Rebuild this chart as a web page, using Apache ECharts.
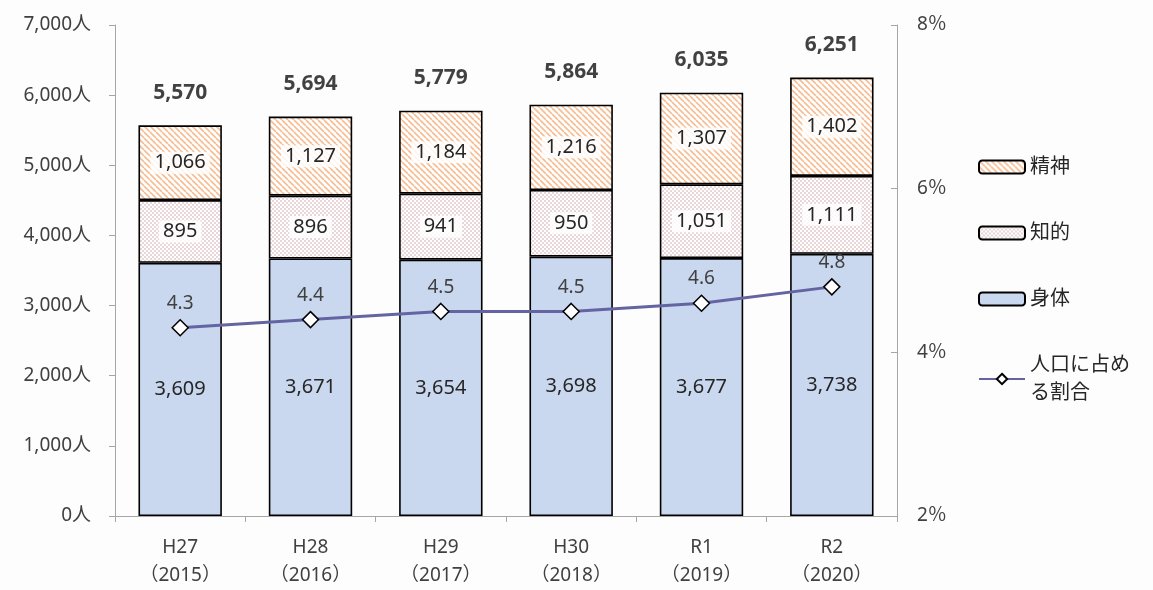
<!DOCTYPE html>
<html>
<head>
<meta charset="utf-8">
<script src="https://cdn.jsdelivr.net/npm/echarts@6/dist/echarts.min.js"></script>
<style>
  html, body { margin: 0; padding: 0; background: #fdfdfd; }
  #chart { width: 1153px; height: 590px; }
</style>
</head>
<body>
<div id="chart"></div>
<script>
// Fiscal years (Japanese era + western year)
const categories = ['H27\n（2015）', 'H28\n（2016）', 'H29\n（2017）', 'H30\n（2018）', 'R1\n（2019）', 'R2\n（2020）'];
// Number of people by disability type
const physical = [3609, 3671, 3654, 3698, 3677, 3738];   // 身体
const intellectual = [895, 896, 941, 950, 1051, 1111];   // 知的
const mental = [1066, 1127, 1184, 1216, 1307, 1402];     // 精神
// Share of the total population (%)
const ratio = [4.3, 4.4, 4.5, 4.5, 4.6, 4.8];
// Left and right axis ranges
const leftTicks = { min: 0, max: 7000, interval: 1000 };
const rightTicks = { min: 2, max: 8, interval: 2 };

const totals = physical.map((v, i) => v + intellectual[i] + mental[i]);

const FONT = "'Noto Sans', 'Noto Sans CJK JP', sans-serif";

// Diagonal orange hatch for 精神
function makeHatch() {
  const s = 6;
  const c = document.createElement('canvas');
  c.width = s; c.height = s;
  const g = c.getContext('2d');
  g.fillStyle = '#ffffff';
  g.fillRect(0, 0, s, s);
  g.strokeStyle = '#F7BC92';
  g.lineWidth = 1.6;
  g.beginPath();
  for (let k = -s; k <= 2 * s; k += s) {
    g.moveTo(k, 0);
    g.lineTo(k + s, s);
  }
  g.stroke();
  return c;
}
// Small check pattern for 知的
function makeCheck() {
  const c = document.createElement('canvas');
  c.width = 4; c.height = 4;
  const g = c.getContext('2d');
  g.fillStyle = '#ffffff';
  g.fillRect(0, 0, 4, 4);
  g.fillStyle = '#E8D6D9';
  g.fillRect(0, 0, 2, 2);
  g.fillRect(2, 2, 2, 2);
  return c;
}

const chart = echarts.init(document.getElementById('chart'));

function segLabel(boxed) {
  return {
    show: true,
    position: 'inside',
    fontSize: 20,
    fontFamily: FONT,
    color: '#262626',
    backgroundColor: boxed ? 'rgba(255,255,255,0.85)' : 'transparent',
    padding: [1, 4],
    formatter: p => p.value.toLocaleString('en-US')
  };
}

chart.setOption({
  backgroundColor: '#fdfdfd',
  animation: false,
  grid: { left: 115, right: 256, top: 25, bottom: 74, containLabel: false, outerBoundsMode: 'none' },
  legend: {
    orient: 'vertical',
    left: 973,
    top: 148,
    itemWidth: 46,
    itemHeight: 13,
    itemGap: 38,
    data: ['精神', '知的', '身体', '人口に占める割合'],
    formatter: n => n === '人口に占める割合' ? '人口に占め\nる割合' : n,
    textStyle: { fontSize: 20, color: '#262626', fontFamily: FONT, lineHeight: 28 }
  },
  xAxis: {
    type: 'category',
    data: categories,
    axisLine: { lineStyle: { color: '#A6A6A6', width: 1 } },
    axisTick: { show: true, length: 6, lineStyle: { color: '#A6A6A6' } },
    axisLabel: { fontSize: 19, color: '#404040', fontFamily: FONT, lineHeight: 28, margin: 18 }
  },
  yAxis: [
    {
      type: 'value',
      min: leftTicks.min, max: leftTicks.max, interval: leftTicks.interval,
      splitLine: { show: false },
      axisLine: { show: true, lineStyle: { color: '#A6A6A6' } },
      axisTick: { show: true, length: 6, lineStyle: { color: '#A6A6A6' } },
      axisLabel: {
        fontSize: 19, color: '#404040', fontFamily: FONT, margin: 24,
        formatter: v => v.toLocaleString('en-US') + '人'
      }
    },
    {
      type: 'value',
      min: rightTicks.min, max: rightTicks.max, interval: rightTicks.interval,
      splitLine: { show: false },
      axisLine: { show: true, lineStyle: { color: '#A6A6A6' } },
      axisTick: { show: true, length: 6, inside: true, lineStyle: { color: '#A6A6A6' } },
      axisLabel: {
        fontSize: 19, color: '#404040', fontFamily: FONT, margin: 20,
        formatter: v => v + '％'
      }
    }
  ],
  series: [
    {
      name: '身体', type: 'bar', stack: 'total', barWidth: '64%',
      data: physical,
      itemStyle: { color: '#C9D8EF', borderColor: '#000000', borderWidth: 1.6 },
      label: segLabel(false)
    },
    {
      name: '知的', type: 'bar', stack: 'total',
      data: intellectual,
      itemStyle: { color: { image: makeCheck(), repeat: 'repeat' }, borderColor: '#000000', borderWidth: 1.6 },
      label: segLabel(true)
    },
    {
      name: '精神', type: 'bar', stack: 'total',
      data: mental,
      itemStyle: { color: { image: makeHatch(), repeat: 'repeat' }, borderColor: '#000000', borderWidth: 1.6 },
      label: segLabel(true)
    },
    {
      name: '合計', type: 'scatter',
      data: totals,
      symbolSize: 0,
      silent: true,
      label: {
        show: true, position: 'top', distance: 22,
        fontSize: 21, fontWeight: 'bold', color: '#111111', fontFamily: FONT,
        formatter: p => p.value.toLocaleString('en-US')
      },
      z: 5
    },
    {
      name: '人口に占める割合', type: 'line', yAxisIndex: 1,
      data: ratio,
      symbol: 'diamond', symbolSize: 16,
      lineStyle: { color: '#6464A2', width: 3 },
      itemStyle: { color: '#ffffff', borderColor: '#000000', borderWidth: 1.5 },
      label: {
        show: true, position: 'top', distance: 6,
        fontSize: 19, color: '#404040', fontFamily: FONT,
        formatter: p => p.value.toFixed(1)
      },
      z: 10
    }
  ]
});
</script>
</body>
</html>
